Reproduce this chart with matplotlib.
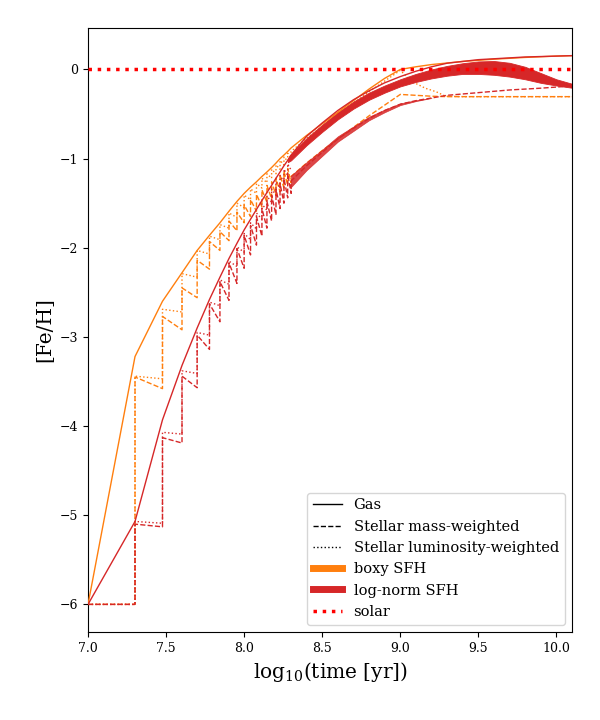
import matplotlib
matplotlib.use('Agg')
import matplotlib.pyplot as plt
from matplotlib.lines import Line2D

plt.rcParams['font.family'] = ['DejaVu Serif']
plt.rcParams['mathtext.fontset'] = 'dejavuserif'

ORANGE = '#ff7f0e'
RED = '#d62728'

# time grid of the first steps, log10(yr)
grid = [7.301, 7.477, 7.602, 7.699, 7.778, 7.845, 7.903, 7.954, 8.000, 8.041,
        8.079, 8.114, 8.146, 8.176, 8.204, 8.230, 8.255, 8.279, 8.301]

# ---- boxy SFH ----
boxy_gas_t = [7.0] + grid + [8.4, 8.5, 8.6, 8.7, 8.8, 8.9, 9.0, 9.1, 9.2, 9.4, 9.6, 9.8, 10.0, 10.1]
boxy_gas = [-6.0, -3.22, -2.60, -2.28, -2.03, -1.86, -1.72, -1.59, -1.48, -1.39, -1.32,
            -1.26, -1.20, -1.15, -1.10, -1.05, -1.00, -0.96, -0.92, -0.88,
            -0.74, -0.61, -0.48, -0.35, -0.22, -0.10, 0.0, 0.03, 0.055, 0.09, 0.115, 0.135, 0.15, 0.155]
boxy_lum_top = [-3.44, -2.69, -2.29, -2.03, -1.87, -1.74, -1.61, -1.50, -1.41, -1.34,
                -1.28, -1.22, -1.17, -1.12, -1.07, -1.02, -0.98, -0.94]
boxy_lum_end = [-3.47, -2.72, -2.33, -2.07, -1.91, -1.78, -1.66, -1.55, -1.46, -1.39,
                -1.33, -1.27, -1.22, -1.17, -1.12, -1.07, -1.03, -0.99]
boxy_mass_top = [-3.45, -2.77, -2.45, -2.14, -1.93, -1.82, -1.70, -1.60, -1.52, -1.46,
                 -1.40, -1.35, -1.30, -1.26, -1.22, -1.18, -1.14, -1.11]
boxy_mass_end = [-3.58, -2.92, -2.56, -2.24, -2.03, -1.92, -1.81, -1.72, -1.65, -1.59,
                 -1.54, -1.49, -1.45, -1.41, -1.37, -1.33, -1.30, -1.27]
boxy_lum_late_t = [8.301, 8.4, 8.5, 8.6, 8.7, 8.8, 8.9, 9.0, 9.08, 9.16, 9.23, 9.29, 9.4, 10.1]
boxy_lum_late = [-0.92, -0.77, -0.64, -0.51, -0.38, -0.25, -0.13, -0.01, -0.14, -0.21, -0.25, -0.30, -0.305, -0.305]
boxy_mass_late_t = [8.301, 8.4, 8.5, 8.6, 8.7, 8.8, 8.9, 9.0, 9.1, 9.2, 9.3, 9.5, 10.1]
boxy_mass_late = [-1.20, -1.05, -0.91, -0.78, -0.65, -0.52, -0.40, -0.28, -0.29, -0.30, -0.305, -0.305, -0.305]

# ---- log-norm SFH ----
lnorm_gas_t = [7.0] + grid + [8.4, 8.5, 8.6, 8.7, 8.8, 8.9, 9.0, 9.1, 9.2, 9.3, 9.4, 9.5, 9.6, 9.8, 10.0, 10.1]
lnorm_gas = [-6.0, -5.07, -3.93, -3.32, -2.90, -2.58, -2.33, -2.12, -1.95, -1.80, -1.68,
             -1.57, -1.47, -1.38, -1.30, -1.22, -1.15, -1.08, -1.02, -0.96,
             -0.75, -0.60, -0.46, -0.34, -0.24, -0.15, -0.08, -0.02, 0.03, 0.07, 0.09, 0.11, 0.12, 0.14, 0.15, 0.155]
lnorm_lum_top = [-5.07, -4.07, -3.38, -2.95, -2.61, -2.36, -2.15, -1.99, -1.84, -1.72,
                 -1.61, -1.51, -1.42, -1.34, -1.26, -1.19, -1.12, -1.06]
lnorm_lum_end = [-5.09, -4.09, -3.41, -2.98, -2.65, -2.41, -2.21, -2.05, -1.91, -1.79,
                 -1.68, -1.58, -1.49, -1.41, -1.33, -1.26, -1.19, -1.13]
lnorm_mass_top = [-5.10, -4.13, -3.44, -2.98, -2.63, -2.38, -2.17, -2.01, -1.86, -1.75,
                  -1.65, -1.56, -1.48, -1.41, -1.34, -1.28, -1.22, -1.17]
lnorm_mass_end = [-5.13, -4.19, -3.57, -3.14, -2.83, -2.59, -2.40, -2.23, -2.08, -1.97,
                  -1.87, -1.78, -1.70, -1.63, -1.56, -1.50, -1.44, -1.39]
lnorm_mass_late_t = [8.301, 8.4, 8.5, 8.6, 8.7, 8.8, 8.9, 9.0, 9.1, 9.2, 9.3, 9.5, 9.7, 9.9, 10.1]
lnorm_mass_late = [-1.25, -1.08, -0.93, -0.78, -0.66, -0.55, -0.46, -0.39, -0.35, -0.32, -0.29, -0.26, -0.23, -0.21, -0.185]
# dense teeth of the mass-weighted log-norm curve (envelope)
mass_band_t = [8.30, 8.40, 8.50, 8.60, 8.70, 8.80, 8.90, 9.00, 9.10, 9.20]
mass_band_hi = [-1.19, -1.04, -0.90, -0.75, -0.64, -0.53, -0.45, -0.38, -0.345, -0.32]
mass_band_lo = [-1.32, -1.13, -0.97, -0.81, -0.69, -0.57, -0.48, -0.40, -0.355, -0.32]
# luminosity-weighted band (dense oscillation) for log-norm SFH
band_t = [8.28, 8.30, 8.40, 8.50, 8.60, 8.70, 8.80, 8.90, 9.00, 9.10, 9.20, 9.30, 9.40, 9.50, 9.60, 9.70, 9.80, 9.90, 10.0, 10.1]
band_hi = [-1.00, -0.95, -0.77, -0.62, -0.48, -0.36, -0.26, -0.18, -0.11, -0.05, 0.00, 0.04, 0.07, 0.09, 0.095, 0.075, 0.03, -0.04, -0.11, -0.16]
band_lo = [-1.04, -1.02, -0.85, -0.70, -0.56, -0.44, -0.34, -0.26, -0.19, -0.14, -0.10, -0.07, -0.05, -0.05, -0.06, -0.08, -0.11, -0.15, -0.18, -0.205]


def sawtooth(top, end, late_t=None, late_y=None):
    xs = [7.0, grid[0]]
    ys = [-6.0, -6.0]
    for i in range(len(top)):
        xs += [grid[i], grid[i + 1]]
        ys += [top[i], end[i]]
    if late_t is not None:
        xs += late_t
        ys += late_y
    return xs, ys


fig, ax = plt.subplots(figsize=(6, 7.2), dpi=100)
fig.subplots_adjust(left=0.1467, right=0.9533, bottom=0.1222, top=0.9611)

lw = 1.0
# boxy
x, y = sawtooth(boxy_lum_top, boxy_lum_end, boxy_lum_late_t, boxy_lum_late)
ax.plot(x, y, color=ORANGE, ls=':', lw=lw, zorder=2)
x, y = sawtooth(boxy_mass_top, boxy_mass_end, boxy_mass_late_t, boxy_mass_late)
ax.plot(x, y, color=ORANGE, ls='--', lw=lw, zorder=2)

# log-norm
ax.fill_between(band_t, band_lo, band_hi, color=RED, lw=0.6, zorder=2.5)
ax.fill_between(mass_band_t, mass_band_lo, mass_band_hi, color=RED, lw=0.5, alpha=0.85, zorder=2.5)
x, y = sawtooth(lnorm_lum_top, lnorm_lum_end)
ax.plot(x, y, color=RED, ls=':', lw=lw, zorder=2.5)
x, y = sawtooth(lnorm_mass_top, lnorm_mass_end, lnorm_mass_late_t, lnorm_mass_late)
ax.plot(x, y, color=RED, ls='--', lw=lw, zorder=2.5)

ax.plot(boxy_gas_t, boxy_gas, color=ORANGE, lw=lw, zorder=3)
ax.plot(lnorm_gas_t, lnorm_gas, color=RED, lw=lw, zorder=3)

ax.axhline(0, color='red', ls=':', lw=2.5, zorder=4)

ax.set_xlim(7.0, 10.1)
ax.set_ylim(-6.31, 0.465)
ax.set_xticks([7.0, 7.5, 8.0, 8.5, 9.0, 9.5, 10.0])
ax.tick_params(labelsize=9)
ax.set_xlabel(r'$\mathrm{log}_{10}(\mathrm{time\ [yr]})$', fontsize=14.5)
ax.set_ylabel('[Fe/H]', fontsize=14.5)

handles = [
    Line2D([], [], color='k', lw=1, ls='-'),
    Line2D([], [], color='k', lw=1, ls='--'),
    Line2D([], [], color='k', lw=1, ls=':'),
    Line2D([], [], color=ORANGE, lw=5),
    Line2D([], [], color=RED, lw=5),
    Line2D([], [], color='red', lw=2.5, ls=':'),
]
labels = ['Gas', 'Stellar mass-weighted', 'Stellar luminosity-weighted',
          'boxy SFH', 'log-norm SFH', 'solar']
ax.legend(handles, labels, loc='lower right', fontsize=10.5)

fig.savefig('out.png', dpi=100)
